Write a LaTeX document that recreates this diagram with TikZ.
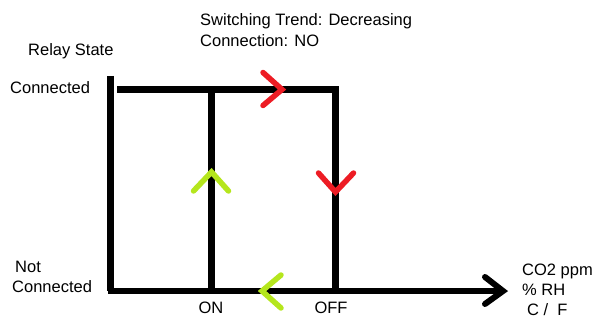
\documentclass[tikz,border=0pt]{standalone}
\usepackage{fontspec}
\setmainfont{Liberation Sans}
\definecolor{pred}{HTML}{ED1C24}
\definecolor{pgreen}{HTML}{B5E61D}
\begin{document}
\begin{tikzpicture}[x=1pt,y=-1pt,
  axisline/.style={line width=6.5pt,black,line join=miter},
  chevred/.style={line width=5.5pt,pred,line cap=round,line join=miter},
  chevgreen/.style={line width=5.5pt,pgreen,line cap=round,line join=miter},
  chevblack/.style={line width=6pt,black,line cap=round,line join=miter},
  lbl/.style={font=\fontsize{16.5}{19}\selectfont,inner sep=0pt}]
\useasboundingbox (0,0) rectangle (601,323);
% coordinates
\coordinate (ytop) at (110.5,76);
\coordinate (origin) at (110.5,291);
\coordinate (xstart) at (107.5,291);
\coordinate (xend) at (503,291);
\coordinate (topstart) at (117,89.5);
\coordinate (topon) at (211.5,89.5);
\coordinate (topoff) at (335.5,89.5);
\coordinate (boton) at (211.5,291);
\coordinate (botoff) at (335.5,291);
\coordinate (tipR1) at (282,89.5);
\coordinate (tipR2) at (335.5,192);
\coordinate (tipG1) at (211.5,172);
\coordinate (tipG2) at (262,291);
% axes and loop
\draw[axisline] (ytop) -- (origin);
\draw[axisline] (xstart) -- (xend);
\draw[axisline] (topstart) -- (topoff) -- (botoff);
\draw[axisline] (topon) -- (boton);
% arrow tip at x axis end
\draw[chevblack] (xend) ++(-18,-14) -- (xend) -- ++(-18,13);
% red chevrons
\draw[chevred] (tipR1) ++(-19,-17) -- (tipR1) -- ++(-19,16);
\draw[chevred] (tipR2) ++(-17,-19) -- (tipR2) -- ++(18,-19);
% green chevrons
\draw[chevgreen] (tipG1) ++(-18,19) -- (tipG1) -- ++(17,19);
\draw[chevgreen] (tipG2) ++(19,-16) -- (tipG2) -- ++(19,17);
% labels
\node[lbl,anchor=base west] (relay) at (28,56) {Relay State};
\node[lbl,anchor=base west] (conn) at (10,94) {Connected};
\node[lbl,anchor=base west] (trend) at (200,26) {Switching Trend: Decreasing};
\node[lbl,anchor=base west] (cno) at (200,47) {Connection: NO};
\node[lbl,anchor=base west] (notc1) at (15,272) {Not};
\node[lbl,anchor=base west] (notc2) at (12,292) {Connected};
\node[lbl,anchor=base] (on) at (211,313) {ON};
\node[lbl,anchor=base] (off) at (331,313) {OFF};
\node[lbl,anchor=base west] (co2) at (522,275) {CO2 ppm};
\node[lbl,anchor=base west] (rh) at (522,295) {\% RH};
\node[lbl,anchor=base west] (cf) at (527,315) {C /\ \ F};
\end{tikzpicture}
\end{document}
